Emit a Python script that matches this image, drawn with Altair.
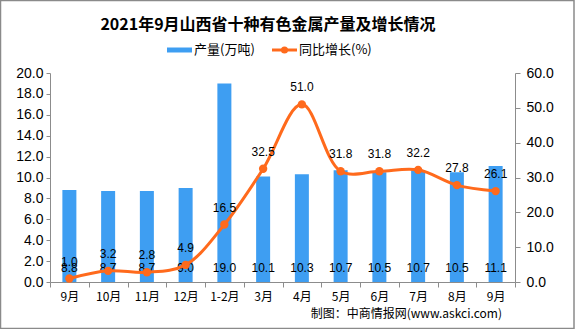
import altair as alt
import pandas as pd

months = ["9月", "10月", "11月", "12月", "1-2月", "3月", "4月", "5月", "6月", "7月", "8月", "9月 "]
production = [8.8, 8.7, 8.7, 9.0, 19.0, 10.1, 10.3, 10.7, 10.5, 10.7, 10.5, 11.1]
growth = [1.0, 3.2, 2.8, 4.9, 16.5, 32.5, 51.0, 31.8, 31.8, 32.2, 27.8, 26.1]

df = pd.DataFrame({"month": months, "prod": production, "growth": growth})

BLUE = "#3E9EF2"
ORANGE = "#FF6A1C"
AXIS = "#8C8C8C"
NUM_FONT = "Liberation Sans"
CJK_FONT = "Noto Sans CJK SC"

xenc = alt.X("month:N", sort=months, scale=alt.Scale(paddingInner=0.0, paddingOuter=0.0),
             axis=alt.Axis(title=None, labelAngle=0, tickBand="extent", domainColor=AXIS,
                           tickColor=AXIS, tickSize=5, labelFont=CJK_FONT, labelFontSize=12,
                           labelColor="#000000", labelPadding=4, labelExpr="trim(datum.label)"))

left_axis = alt.Axis(title=None, values=list(range(0, 21, 2)), format=".1f", grid=False,
                     domainColor=AXIS, tickColor=AXIS, tickSize=4, labelFont=NUM_FONT,
                     labelFontSize=14, labelColor="#000000", labelPadding=3, labelOverlap=False)
right_axis = alt.Axis(title=None, orient="right", values=list(range(0, 61, 10)), format=".1f",
                      grid=False, domainColor=AXIS, tickColor=AXIS, tickSize=5,
                      labelFont=NUM_FONT, labelFontSize=14, labelColor="#000000", labelPadding=6,
                      labelOverlap=False)

base = alt.Chart(df)

bars = base.mark_bar(color=BLUE, width=14).encode(
    x=xenc,
    y=alt.Y("prod:Q", scale=alt.Scale(domain=[0, 20]), axis=left_axis),
)
bar_text = base.mark_text(font=NUM_FONT, fontSize=12, color="#000000", dy=-14).encode(
    x=alt.X("month:N", sort=months),
    y=alt.datum(0, axis=left_axis),
    text=alt.Text("prod:Q", format=".1f"),
)
left = alt.layer(bars, bar_text)

yr = alt.Y("growth:Q", scale=alt.Scale(domain=[0, 60]), axis=right_axis)
line = base.mark_line(color=ORANGE, strokeWidth=3, interpolate="catmull-rom").encode(
    x=alt.X("month:N", sort=months), y=yr)
pts = base.mark_circle(color=ORANGE, size=70, opacity=1).encode(
    x=alt.X("month:N", sort=months), y=yr)
line_text = base.mark_text(font=NUM_FONT, fontSize=12, color="#000000", dy=-17).encode(
    x=alt.X("month:N", sort=months), y=yr,
    text=alt.Text("growth:Q", format=".1f"))
right = alt.layer(line, pts, line_text)

one = pd.DataFrame({"a": [0]})
title = alt.Chart(one).mark_text(text="2021年9月山西省十种有色金属产量及增长情况", font=CJK_FONT,
                                 fontSize=16, fontWeight="bold", color="#000000",
                                 align="center", baseline="middle").encode(
    x=alt.value(218), y=alt.value(-48))
leg_bar = alt.Chart(one).mark_rect(color=BLUE).encode(
    x=alt.value(117), x2=alt.value(142), y=alt.value(-25.5), y2=alt.value(-20.5))
leg_bar_t = alt.Chart(one).mark_text(text="产量(万吨)", font=CJK_FONT, fontSize=13, color="#000000",
                                     align="left", baseline="middle").encode(
    x=alt.value(144), y=alt.value(-23))
leg_line = alt.Chart(one).mark_rule(color=ORANGE, strokeWidth=3).encode(
    x=alt.value(222), x2=alt.value(247), y=alt.value(-23))
leg_pt = alt.Chart(one).mark_circle(color=ORANGE, size=50, opacity=1).encode(
    x=alt.value(234.5), y=alt.value(-23))
leg_line_t = alt.Chart(one).mark_text(text="同比增长(%)", font=CJK_FONT, fontSize=13, color="#000000",
                                      align="left", baseline="middle").encode(
    x=alt.value(249), y=alt.value(-23))
source = alt.Chart(one).mark_text(text="制图：中商情报网(www.askci.com)", font=CJK_FONT, fontSize=12,
                                  color="#000000", align="right", baseline="middle").encode(
    x=alt.value(452), y=alt.value(241))
border = alt.Chart(one).mark_rect(fill=None, stroke="#8A8A8A", strokeWidth=1.5).encode(
    x=alt.value(-49.5), x2=alt.value(524), y=alt.value(-72.5), y2=alt.value(255.5))

main = alt.layer(left, right).resolve_scale(y="independent")

chart = alt.layer(main, title, leg_bar, leg_bar_t, leg_line, leg_pt, leg_line_t, source, border).properties(
    width=465, height=209,
    padding={"left": 50, "top": 73, "right": 60, "bottom": 47},
    autosize=alt.AutoSizeParams(type="none"),
    background="#FFFFFF",
).configure_view(stroke=None)

chart.save("out.html", embed_options={"renderer": "svg", "actions": False})
